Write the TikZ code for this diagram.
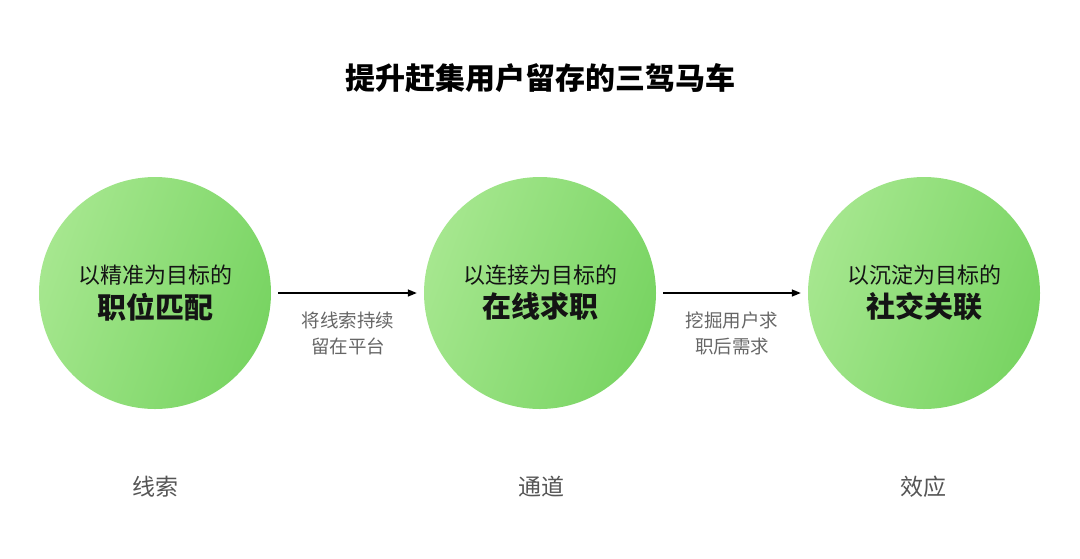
\documentclass[tikz,border=0pt]{standalone}
\usepackage{fontspec}
\setmainfont{Noto Sans CJK SC}
\usetikzlibrary{arrows.meta}
\definecolor{glight}{HTML}{A6E78F}
\definecolor{gdark}{HTML}{78D462}
\definecolor{labgray}{HTML}{666666}
\definecolor{botgray}{HTML}{555555}
\tikzset{
  ball/.style={circle, minimum size=232pt, inner sep=0pt, left color=glight, right color=gdark, shading angle=70, align=center, text=black!92},
  conn/.style={line width=1.4pt, -{Triangle[length=9pt,width=7pt]}, shorten <=7pt, shorten >=7pt},
  arrlab/.style={text=labgray, align=center, font=\fontsize{18.5}{26}\selectfont},
  botlab/.style={text=botgray, font=\fontsize{23}{27}\selectfont},
}
\newcommand{\balltext}[2]{{\fontsize{22}{26}\selectfont #1}\\[6pt]{\fontsize{29}{34}\selectfont\bfseries #2}}
\begin{document}
\begin{tikzpicture}[x=1pt,y=-1pt]
\useasboundingbox (0,0) rectangle (1080,558);
\node[font=\fontsize{30}{36}\selectfont\bfseries] (title) at (540,78) {提升赶集用户留存的三驾马车};
\node[ball] (c1) at (155,293) {\balltext{以精准为目标的}{职位匹配}};
\node[ball] (c2) at (540,293) {\balltext{以连接为目标的}{在线求职}};
\node[ball] (c3) at (924,293) {\balltext{以沉淀为目标的}{社交关联}};
\draw[conn] (c1) -- (c2);
\draw[conn] (c2) -- (c3);
\node[arrlab] (l1) at (348,333) {将线索持续\\留在平台};
\node[arrlab] (l2) at (732,333) {挖掘用户求\\职后需求};
\node[botlab] (b1) at (155,487) {线索};
\node[botlab] (b2) at (541,487) {通道};
\node[botlab] (b3) at (923,487) {效应};
\end{tikzpicture}
\end{document}
